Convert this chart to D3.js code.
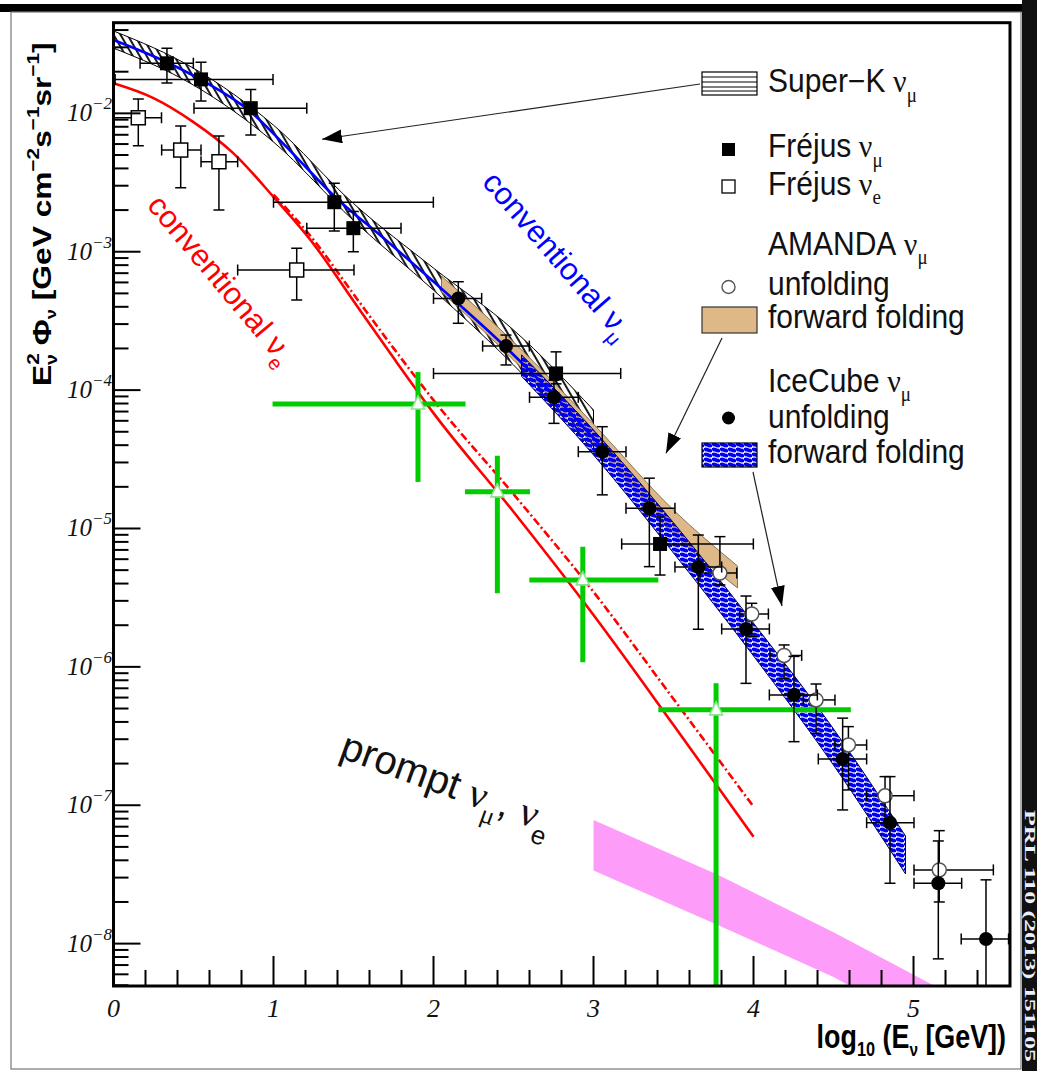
<!DOCTYPE html>
<html>
<head>
<meta charset="utf-8">
<script src="https://cdn.jsdelivr.net/npm/d3@7"></script>
<style>
  body { margin: 0; background: #fff; }
  svg { display: block; }
</style>
</head>
<body>
<div id="chart"></div>
<script>
// x: log10(E/GeV), y: E^2 flux [GeV cm^-2 s^-1 sr^-1]
const xTicks = [0, 1, 2, 3, 4, 5];
const yTicks = [1e-2, 1e-3, 1e-4, 1e-5, 1e-6, 1e-7, 1e-8];
const yTickExp = ["\u22122", "\u22123", "\u22124", "\u22125", "\u22126", "\u22127", "\u22128"];

// Frejus nu_mu
const frejusMuE   = [0.334, 0.547, 0.858, 1.380, 1.499, 2.766, 3.416];
const frejusMuELo = [0.166, 0.010, 0.503, 1.000, 1.208, 2.000, 3.176];
const frejusMuEHi = [0.499, 0.997, 1.208, 1.999, 1.797, 3.170, 3.999];
const frejusMuF   = [2.30e-2, 1.76e-2, 1.09e-2, 2.28e-3, 1.48e-3, 1.32e-4, 7.73e-6];
const frejusMuFLo = [1.66e-2, 1.23e-2, 6.97e-3, 1.41e-3, 1.00e-3, 1.11e-4, 4.61e-6];
const frejusMuFHi = [2.95e-2, 2.34e-2, 1.49e-2, 3.12e-3, 1.95e-3, 1.89e-4, 1.21e-5];

// Frejus nu_e
const frejusEE   = [0.155, 0.420, 0.659, 1.145];
const frejusEELo = [0.000, 0.301, 0.547, 0.776];
const frejusEEHi = [0.300, 0.547, 0.776, 1.503];
const frejusEF   = [9.29e-3, 5.43e-3, 4.47e-3, 7.38e-4];
const frejusEFLo = [5.83e-3, 2.90e-3, 2.00e-3, 4.48e-4];
const frejusEFHi = [1.27e-2, 8.09e-3, 6.85e-3, 1.06e-3];

// IceCube nu_mu unfolding
const icecubeE   = [2.155, 2.453, 2.753, 3.055, 3.349, 3.655, 3.953, 4.253, 4.557, 4.853, 5.155, 5.453];
const icecubeELo = [2.000, 2.307, 2.600, 2.905, 3.203, 3.509, 3.801, 4.099, 4.405, 4.707, 5.003, 5.298];
const icecubeEHi = [2.301, 2.599, 2.905, 3.203, 3.509, 3.801, 4.099, 4.399, 4.707, 5.003, 5.301, 5.594];
const icecubeF   = [4.60e-4, 2.08e-4, 8.87e-5, 3.59e-5, 1.40e-5, 5.27e-6, 1.88e-6, 6.27e-7, 2.16e-7, 7.48e-8, 2.73e-8, 1.08e-8];
const icecubeFLo = [3.04e-4, 1.52e-4, 5.75e-5, 1.75e-5, 5.30e-6, 1.87e-6, 7.60e-7, 2.88e-7, 9.25e-8, 2.73e-8, 7.76e-9, 1e-9];
const icecubeFHi = [6.07e-4, 2.50e-4, 1.18e-4, 5.44e-5, 2.31e-5, 8.97e-6, 3.25e-6, 1.19e-6, 4.26e-7, 1.61e-7, 5.52e-8, 2.89e-8];

// AMANDA nu_mu unfolding
const amandaE   = [3.790, 3.989, 4.191, 4.391, 4.593, 4.822, 5.161];
const amandaELo = [3.666, 3.914, 4.103, 4.311, 4.509, 4.707, 5.003];
const amandaEHi = [3.895, 4.093, 4.301, 4.509, 4.707, 5.003, 5.499];
const amandaF   = [4.76e-6, 2.41e-6, 1.21e-6, 5.77e-7, 2.73e-7, 1.17e-7, 3.41e-8];
const amandaFLo = [3.91e-6, 1.65e-6, 8.28e-7, 3.31e-7, 1.29e-7, 7.41e-8, 2.00e-8];
const amandaFHi = [8.73e-6, 2.88e-6, 1.44e-6, 7.52e-7, 3.70e-7, 1.61e-7, 6.55e-8];

// IceCube nu_e (green crosses)
const nueE   = [1.903, 2.399, 2.933, 3.766];
const nueELo = [0.994, 2.197, 2.599, 3.405];
const nueEHi = [2.200, 2.603, 3.405, 4.608];
const nueF   = [7.94e-5, 1.84e-5, 4.25e-6, 4.89e-7];
const nueFLo = [2.17e-5, 3.40e-6, 1.08e-6, 1e-9];
const nueFHi = [1.35e-4, 3.36e-5, 7.38e-6, 7.62e-7];

// conventional nu_mu (blue)
const convMuE = [0, 0.33, 0.55, 0.86, 1.10, 1.38, 1.70, 2.15, 2.45, 2.75, 3.05];
const convMuF = [3.39e-2, 2.35e-2, 1.74e-2, 1.02e-2, 5.43e-3, 2.52e-3, 1.22e-3, 4.26e-4, 2.05e-4, 9.23e-5, 3.88e-5];

// conventional nu_e (red solid / red dash-dot)
const convEE  = [0, 0.25, 0.5, 0.75, 1.0, 1.25, 1.5, 1.75, 2.0, 2.5, 3.0, 3.5, 4.0];
const convEF  = [1.65e-2, 1.29e-2, 8.65e-3, 5.14e-3, 2.49e-3, 1.14e-3, 4.41e-4, 1.71e-4, 6.82e-5, 1.32e-5, 2.37e-6, 3.80e-7, 5.93e-8];
const convE2E = [1.0, 1.25, 1.5, 1.75, 2.0, 2.5, 3.0, 3.5, 4.0];
const convE2F = [2.59e-3, 1.22e-3, 4.94e-4, 2.01e-4, 8.47e-5, 1.77e-5, 3.48e-6, 5.86e-7, 9.77e-8];

// bands
const superKE  = [0, 0.5, 1.0, 1.5, 2.0, 2.5, 3.0];
const superKHi = [3.94e-2, 2.12e-2, 8.22e-3, 2.23e-3, 7.62e-4, 2.72e-4, 7.18e-5];
const superKLo = [2.96e-2, 1.60e-2, 6.21e-3, 1.68e-3, 5.28e-4, 1.52e-4, 3.69e-5];

const amandaBandE  = [2.05, 2.5, 3.0, 3.5, 3.9];
const amandaBandHi = [6.67e-4, 2.23e-4, 5.69e-5, 1.36e-5, 5.36e-6];
const amandaBandLo = [5.12e-4, 1.65e-4, 4.08e-5, 9.12e-6, 3.72e-6];

const icecubeBandE  = [2.55, 3.0, 3.5, 4.0, 4.5, 4.95];
const icecubeBandHi = [1.80e-4, 5.15e-5, 1.10e-5, 2.07e-6, 3.56e-7, 6.00e-8];
const icecubeBandLo = [1.26e-4, 3.40e-5, 6.65e-6, 1.20e-6, 1.95e-7, 3.19e-8];

const promptE  = [3.0, 3.78, 4.5, 5.3];
const promptHi = [7.83e-8, 3.13e-8, 1.21e-8, 3.9e-9];
const promptLo = [3.37e-8, 1.36e-8, 5.75e-9, 1.78e-9];

// arrow tips (data coords)
const arrowTipE = [1.303, 3.453, 4.178];
const arrowTipF = [6.5e-3, 3.5e-5, 2.75e-6];

const W = 1037, H = 1071;
const plot = {left: 113.5, right: 1010, top: 22.7, bottom: 986};
const sans = "'Liberation Sans', Arial, Helvetica, sans-serif";
const serif = "'Liberation Serif', 'Times New Roman', serif";

const svg = d3.select("#chart").append("svg")
  .attr("width", W).attr("height", H);

const x = d3.scaleLinear().domain([0, 5.603]).range([plot.left, plot.right]);
const y = d3.scaleLog().domain([4.94e-9, 4.52e-2]).range([plot.bottom, plot.top]);

const defs = svg.append("defs");
defs.append("clipPath").attr("id", "clip")
  .append("rect")
  .attr("x", plot.left).attr("y", plot.top)
  .attr("width", plot.right - plot.left).attr("height", plot.bottom - plot.top);

const hatch = defs.append("pattern").attr("id", "hatch")
  .attr("width", 6).attr("height", 6)
  .attr("patternUnits", "userSpaceOnUse")
  .attr("patternTransform", "rotate(60)");
hatch.append("line").attr("x1", 0).attr("y1", 3).attr("x2", 6).attr("y2", 3)
  .attr("stroke", "#000").attr("stroke-width", 1.8);

const waves = defs.append("pattern").attr("id", "waves")
  .attr("width", 8).attr("height", 5)
  .attr("patternUnits", "userSpaceOnUse");
waves.append("path").attr("d", "M0,0 Q2,-1.4 4,0 T8,0")
  .attr("fill", "none").attr("stroke", "#0000f0").attr("stroke-width", 3.6);
waves.append("path").attr("d", "M0,5 Q2,3.6 4,5 T8,5")
  .attr("fill", "none").attr("stroke", "#0000f0").attr("stroke-width", 3.6);

defs.append("marker").attr("id", "arrow")
  .attr("viewBox", "0 0 20 14").attr("refX", 20).attr("refY", 7)
  .attr("markerWidth", 20).attr("markerHeight", 14)
  .attr("markerUnits", "userSpaceOnUse").attr("orient", "auto")
  .append("path").attr("d", "M0,0 L20,7 L0,14 Z").attr("fill", "#000");

// outer figure frame
svg.append("rect").attr("x", 0).attr("y", 4).attr("width", W).attr("height", 8).attr("fill", "#000");
svg.append("rect").attr("x", 11).attr("y", 12).attr("width", 1010).attr("height", 1057)
  .attr("fill", "none").attr("stroke", "#777").attr("stroke-width", 1.2);
svg.append("rect").attr("x", 1022).attr("y", 0).attr("width", 15).attr("height", H).attr("fill", "#111");
svg.append("text")
  .attr("transform", "translate(1025,810) rotate(90)")
  .attr("font-family", serif).attr("font-weight", "bold").attr("font-size", 14)
  .attr("textLength", 252).attr("lengthAdjust", "spacingAndGlyphs")
  .attr("fill", "#e8f0ff")
  .text("PRL 110 (2013) 151105");

const g = svg.append("g").attr("clip-path", "url(#clip)");

const zip = (e, lo, hi) => e.map((d, i) => ({e: d, lo: lo[i], hi: hi[i]}));
const area = d3.area().x(d => x(d.e)).y0(d => y(d.lo)).y1(d => y(d.hi)).curve(d3.curveMonotoneX);
const line = d3.line().x(d => x(d.e)).y(d => y(d.f)).curve(d3.curveMonotoneX);

// Super-K hatched band
g.append("path").datum(zip(superKE, superKLo, superKHi))
  .attr("d", area).attr("fill", "url(#hatch)").attr("stroke", "#000").attr("stroke-width", 1);

// AMANDA forward folding
g.append("path").datum(zip(amandaBandE, amandaBandLo, amandaBandHi))
  .attr("d", area).attr("fill", "#deb887").attr("stroke", "#6b5a40").attr("stroke-width", 0.8);

// conventional nu_mu
g.append("path").datum(convMuE.map((e, i) => ({e, f: convMuF[i]})))
  .attr("d", line).attr("fill", "none").attr("stroke", "#0000ff").attr("stroke-width", 2.6);

// IceCube forward folding
g.append("path").datum(zip(icecubeBandE, icecubeBandLo, icecubeBandHi))
  .attr("d", area).attr("fill", "url(#waves)").attr("stroke", "#000060").attr("stroke-width", 1);

// conventional nu_e
g.append("path").datum(convEE.map((e, i) => ({e, f: convEF[i]})))
  .attr("d", line).attr("fill", "none").attr("stroke", "#ff0000").attr("stroke-width", 2.6);
g.append("path").datum(convE2E.map((e, i) => ({e, f: convE2F[i]})))
  .attr("d", line).attr("fill", "none").attr("stroke", "#ff0000").attr("stroke-width", 2.6)
  .attr("stroke-dasharray", "8,3,2,3");

// prompt band
g.append("path").datum(zip(promptE, promptLo, promptHi))
  .attr("d", d3.area().x(d => x(d.e)).y0(d => y(d.lo)).y1(d => y(d.hi)))
  .attr("fill", "#fe9cf9");

// green crosses
nueE.forEach((e, i) => {
  g.append("line").attr("x1", x(nueELo[i])).attr("x2", x(nueEHi[i]))
    .attr("y1", y(nueF[i])).attr("y2", y(nueF[i]))
    .attr("stroke", "#00cc00").attr("stroke-width", 5);
  g.append("line").attr("x1", x(e)).attr("x2", x(e))
    .attr("y1", y(nueFLo[i])).attr("y2", y(nueFHi[i]))
    .attr("stroke", "#00cc00").attr("stroke-width", 5);
  const cx = x(e), cy = y(nueF[i]);
  g.append("path")
    .attr("d", `M${cx},${cy - 8} L${cx + 6.5},${cy + 5} L${cx - 6.5},${cy + 5} Z`)
    .attr("fill", "#fff").attr("stroke", "#8fe28f").attr("stroke-width", 1.6);
});

// error bars + markers
function points(E, ELo, EHi, F, FLo, FHi, marker) {
  const cap = 5.5;
  E.forEach((e, i) => {
    const cx = x(e), cy = y(F[i]);
    const bars = g.append("g").attr("stroke", "#000").attr("stroke-width", 1.5);
    bars.append("line").attr("x1", x(ELo[i])).attr("x2", x(EHi[i])).attr("y1", cy).attr("y2", cy);
    bars.append("line").attr("x1", cx).attr("x2", cx).attr("y1", y(FLo[i])).attr("y2", y(FHi[i]));
    [ELo[i], EHi[i]].forEach(v => bars.append("line")
      .attr("x1", x(v)).attr("x2", x(v)).attr("y1", cy - cap).attr("y2", cy + cap));
    [FLo[i], FHi[i]].forEach(v => bars.append("line")
      .attr("x1", cx - cap).attr("x2", cx + cap).attr("y1", y(v)).attr("y2", y(v)));
    marker(cx, cy);
  });
}
const filledSquare = (cx, cy) => g.append("rect").attr("x", cx - 7).attr("y", cy - 7)
  .attr("width", 14).attr("height", 14).attr("fill", "#000");
const openSquare = (cx, cy) => g.append("rect").attr("x", cx - 7).attr("y", cy - 7)
  .attr("width", 14).attr("height", 14).attr("fill", "#fff").attr("stroke", "#000").attr("stroke-width", 1.5);
const filledCircle = (cx, cy) => g.append("circle").attr("cx", cx).attr("cy", cy).attr("r", 7).attr("fill", "#000");
const openCircle = (cx, cy) => g.append("circle").attr("cx", cx).attr("cy", cy).attr("r", 7)
  .attr("fill", "#fff").attr("stroke", "#555").attr("stroke-width", 1.5);

points(amandaE, amandaELo, amandaEHi, amandaF, amandaFLo, amandaFHi, openCircle);
points(frejusEE, frejusEELo, frejusEEHi, frejusEF, frejusEFLo, frejusEFHi, openSquare);
points(frejusMuE, frejusMuELo, frejusMuEHi, frejusMuF, frejusMuFLo, frejusMuFHi, filledSquare);
points(icecubeE, icecubeELo, icecubeEHi, icecubeF, icecubeFLo, icecubeFHi, filledCircle);

// axes: ticks inside, thick frame
const axis = svg.append("g").attr("stroke", "#000").attr("stroke-width", 2);
const yMinor = [];
for (let p = -9; p <= -2; p++) for (let k = 2; k <= 9; k++) {
  const v = k * Math.pow(10, p);
  if (v > y.domain()[0] && v < y.domain()[1]) yMinor.push(v);
}
axis.selectAll(".ymin").data(yMinor).enter().append("line")
  .attr("x1", plot.left).attr("x2", plot.left + 15)
  .attr("y1", d => y(d)).attr("y2", d => y(d));
axis.selectAll(".ymaj").data(yTicks).enter().append("line")
  .attr("x1", plot.left).attr("x2", plot.left + 27)
  .attr("y1", d => y(d)).attr("y2", d => y(d));
const xMinor = d3.range(0, 56, 2).map(d => d / 10).filter(d => d % 1 !== 0);
axis.selectAll(".xmin").data(xMinor).enter().append("line")
  .attr("x1", d => x(d)).attr("x2", d => x(d))
  .attr("y1", plot.bottom).attr("y2", plot.bottom - 16);
axis.selectAll(".xmaj").data(xTicks).enter().append("line")
  .attr("x1", d => x(d)).attr("x2", d => x(d))
  .attr("y1", plot.bottom).attr("y2", plot.bottom - 30);
svg.append("rect").attr("x", plot.left).attr("y", plot.top)
  .attr("width", plot.right - plot.left).attr("height", plot.bottom - plot.top)
  .attr("fill", "none").attr("stroke", "#000").attr("stroke-width", 3);

// tick labels
yTicks.forEach((t, i) => {
  svg.append("text").attr("x", 92).attr("y", y(t) + 8)
    .attr("text-anchor", "end")
    .attr("font-family", serif).attr("font-style", "italic").attr("font-size", 25).attr("fill", "#111")
    .text("10");
  svg.append("text").attr("x", 92).attr("y", y(t) - 4)
    .attr("font-family", serif).attr("font-style", "italic").attr("font-size", 17).attr("fill", "#111")
    .text(yTickExp[i]);
});
svg.selectAll(".xlab").data(xTicks).enter().append("text")
  .attr("x", d => x(d)).attr("y", 1017).attr("text-anchor", "middle")
  .attr("font-family", serif).attr("font-style", "italic").attr("font-size", 26).attr("fill", "#111")
  .text(d => d);

// axis titles
const yt = svg.append("text").attr("transform", "translate(51,386) rotate(-90) scale(1.22,1)")
  .attr("font-family", sans).attr("font-weight", "bold").attr("font-size", 26);
yt.append("tspan").text("E");
yt.append("tspan").attr("font-size", 17).attr("dy", -12).text("2");
yt.append("tspan").attr("font-size", 16).attr("dx", -9.5).attr("dy", 18).text("\u03bd");
yt.append("tspan").attr("dy", -6).text(" \u03a6");
yt.append("tspan").attr("font-size", 15).attr("dy", 5).text("\u03bd");
yt.append("tspan").attr("dy", -5).text("  [GeV cm");
yt.append("tspan").attr("font-size", 17).attr("dy", -12).text("\u22122");
yt.append("tspan").attr("dy", 12).text("s");
yt.append("tspan").attr("font-size", 17).attr("dy", -12).text("\u22121");
yt.append("tspan").attr("dy", 12).text("sr");
yt.append("tspan").attr("font-size", 17).attr("dy", -12).text("\u22121");
yt.append("tspan").attr("dy", 12).text("]");

const xt = svg.append("text").attr("transform", "translate(1006,1048) scale(0.96,1.2)")
  .attr("text-anchor", "end")
  .attr("font-family", sans).attr("font-weight", "bold").attr("font-size", 28);
xt.append("tspan").text("log");
xt.append("tspan").attr("font-size", 17).attr("dy", 7).text("10");
xt.append("tspan").attr("dy", -7).text(" (E");
xt.append("tspan").attr("font-size", 16).attr("dy", 7).text("\u03bd");
xt.append("tspan").attr("dy", -7).text(" [GeV])");

// curve labels
const redLab = svg.append("text").attr("transform", "translate(146,206) rotate(50)")
  .attr("font-family", sans).attr("font-size", 31).attr("fill", "#ff0000");
redLab.append("tspan").text("conventional ");
redLab.append("tspan").text("\u03bd");
redLab.append("tspan").attr("font-size", 20).attr("dy", 9).text("e");

const blueLab = svg.append("text").attr("transform", "translate(481,183) rotate(49)")
  .attr("font-family", sans).attr("font-size", 31).attr("fill", "#0000ff");
blueLab.append("tspan").text("conventional ");
blueLab.append("tspan").text("\u03bd");
blueLab.append("tspan").attr("font-size", 20).attr("dy", 9).text("\u03bc");

const promptLab = svg.append("text").attr("transform", "translate(338,757) rotate(20)")
  .attr("font-family", sans).attr("font-size", 40).attr("fill", "#111");
promptLab.append("tspan").text("prompt ");
promptLab.append("tspan").attr("font-family", serif).text("\u03bd");
promptLab.append("tspan").attr("font-family", serif).attr("font-size", 26).attr("dy", 12).text("\u03bc");
promptLab.append("tspan").attr("dy", -12).text(", ");
promptLab.append("tspan").attr("font-family", serif).text("\u03bd");
promptLab.append("tspan").attr("font-size", 26).attr("dy", 14).text("e");

// legend
const leg = svg.append("g").attr("font-family", sans).attr("font-size", 30).attr("fill", "#111");
function legText(ty, main, nuSub, subDy) {
  const t = leg.append("text").attr("transform", `translate(768,${ty}) scale(1,1.08)`);
  t.append("tspan").text(main);
  if (nuSub) {
    t.append("tspan").attr("font-family", serif).text(" \u03bd");
    t.append("tspan").attr("font-family", serif).attr("font-size", 19).attr("dy", subDy).text(nuSub);
  }
}
legText(92, "Super\u2212K", "\u03bc", 9);
legText(157, "Fr\u00e9jus", "\u03bc", 9);
legText(195, "Fr\u00e9jus", "e", 8);
legText(255, "AMANDA", "\u03bc", 8);
legText(295, "unfolding");
legText(328, "forward folding");
legText(392, "IceCube", "\u03bc", 8);
legText(428, "unfolding");
legText(463, "forward folding");

const sk = leg.append("g");
sk.append("rect").attr("x", 702).attr("y", 72).attr("width", 55).attr("height", 23)
  .attr("fill", "#fff").attr("stroke", "#000").attr("stroke-width", 1.2);
[77, 82, 87, 91].forEach(v => sk.append("line").attr("x1", 702).attr("x2", 757)
  .attr("y1", v).attr("y2", v).attr("stroke", "#000").attr("stroke-width", 1.2));
leg.append("rect").attr("x", 722).attr("y", 143).attr("width", 13).attr("height", 13).attr("fill", "#000");
leg.append("rect").attr("x", 722).attr("y", 180).attr("width", 13).attr("height", 13)
  .attr("fill", "#fff").attr("stroke", "#000").attr("stroke-width", 1.3);
leg.append("circle").attr("cx", 728.5).attr("cy", 287).attr("r", 6.5)
  .attr("fill", "#fff").attr("stroke", "#555").attr("stroke-width", 1.4);
leg.append("rect").attr("x", 702).attr("y", 307).attr("width", 55).attr("height", 26)
  .attr("fill", "#deb887").attr("stroke", "#333").attr("stroke-width", 1.2);
leg.append("circle").attr("cx", 728.5).attr("cy", 418).attr("r", 6.5).attr("fill", "#000");
leg.append("rect").attr("x", 702).attr("y", 443).attr("width", 55).attr("height", 24)
  .attr("fill", "#fff");
leg.append("rect").attr("x", 702).attr("y", 443).attr("width", 55).attr("height", 24)
  .attr("fill", "url(#waves)").attr("stroke", "#000").attr("stroke-width", 1.2);

// arrows from legend swatches
const arrowStart = [[700, 84], [722, 338], [753, 472]];
arrowStart.forEach((s, i) => {
  svg.append("line").attr("x1", s[0]).attr("y1", s[1])
    .attr("x2", x(arrowTipE[i])).attr("y2", y(arrowTipF[i]))
    .attr("stroke", "#222").attr("stroke-width", 1.2)
    .attr("marker-end", "url(#arrow)");
});
</script>
</body>
</html>
